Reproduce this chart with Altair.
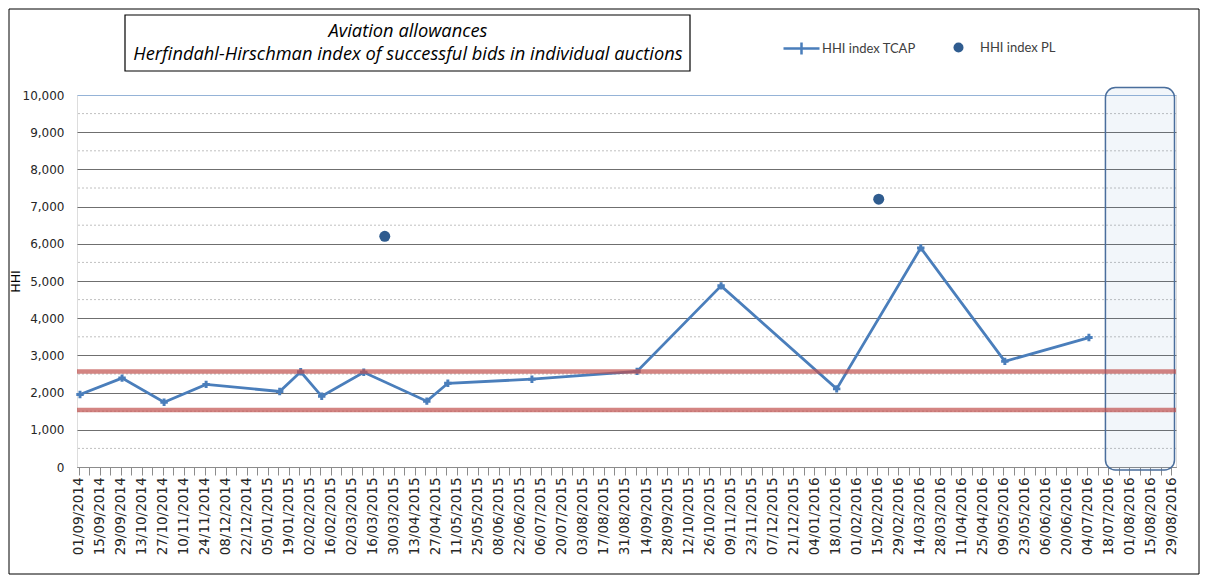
import altair as alt
import pandas as pd

# ---- data ----
tcap_dates = ["2014-09-02", "2014-09-30", "2014-10-28", "2014-11-25", "2015-01-13",
              "2015-01-27", "2015-02-10", "2015-03-10", "2015-04-21", "2015-05-05",
              "2015-06-30", "2015-09-08", "2015-11-03", "2016-01-19", "2016-03-15",
              "2016-05-10", "2016-07-05"]
tcap_values = [1950, 2390, 1740, 2220, 2030, 2560, 1900, 2545, 1770, 2250,
               2360, 2570, 4870, 2100, 5890, 2840, 3480]

pl_dates = ["2015-03-24", "2016-02-16"]
pl_values = [6200, 7200]

thresholds = [1530, 2570]
minor_grid = [500, 1500, 2500, 3500, 4500, 5500, 6500, 7500, 8500, 9500]
y_ticks = [0, 1000, 2000, 3000, 4000, 5000, 6000, 7000, 8000, 9000, 10000]

band_start = ["2016-07-16"]
band_end = ["2016-08-31"]
band_low = [-80]
band_high = [10200]

title_lines = ["Aviation allowances",
               "Herfindahl-Hirschman index of successful bids in individual auctions"]
series_names = ["HHI index TCAP", "HHI index PL"]

x_first_label = "2014-09-01"
x_last_label = "2016-08-29"
x_domain = ["2014-08-31", "2016-09-01"]


def ms(d):
    return int(pd.Timestamp(d, tz="UTC").value // 10**6)


tick_values = [ms(d) for d in pd.date_range(x_first_label, x_last_label, freq="7D")]
t0 = ms(x_first_label)

tcap_df = pd.DataFrame({"date": tcap_dates, "hhi": tcap_values, "series": series_names[0]})
pl_df = pd.DataFrame({"date": pl_dates, "hhi": pl_values, "series": series_names[1]})
thr_df = pd.DataFrame({"hhi": thresholds})
minor_df = pd.DataFrame({"hhi": minor_grid})
band_df = pd.DataFrame({"start": band_start, "end": band_end, "lo": band_low, "hi": band_high})

W, H = 1099, 372
LINE_BLUE = "#4a7ebb"
PL_BLUE = "#2f5c8f"

xscale = alt.Scale(type="utc", domain=[ms(x_domain[0]), ms(x_domain[1])])
yscale = alt.Scale(domain=[0, 10000], nice=False)

label_expr = ("(round((datum.value - %d) / 604800000) %% 2 == 0) ? "
              "utcFormat(datum.value, '%%d/%%m/%%Y') : ''" % t0)

x_axis = alt.Axis(values=tick_values, labelExpr=label_expr, labelAngle=270,
                  labelOverlap=False, labelBound=False, labelFlush=False,
                  labelFont="DejaVu Sans", labelFontSize=13.5, labelColor="#262626",
                  labelPadding=2, tickSize=8, tickColor="#8c8c8c", domainColor="#8c8c8c",
                  grid=False, title=None)

y_axis = alt.Axis(values=y_ticks, format=",.0f", labelFont="DejaVu Sans", labelFontSize=12,
                  labelColor="#262626", labelPadding=13, labelOverlap=False, ticks=False,
                  domain=False, grid=True,
                  gridColor={"condition": {"test": "datum.value == 10000", "value": "#95b3d7"},
                             "value": "#6f6f6f"},
                  title="HHI", titleFont="DejaVu Sans", titleFontSize=12.5, titleFontWeight="normal",
                  titleColor="#000000", titleX=-62, titleY=186, titleAngle=270,
                  titleBaseline="middle", titleAlign="center")


def X(field):
    return alt.X(field, scale=xscale, axis=x_axis)


def Y(field):
    return alt.Y(field, scale=yscale, axis=y_axis)


minor = alt.Chart(minor_df).mark_rule(color="#c0c0c0", strokeDash=[2, 2], strokeWidth=1).encode(
    y=Y("hhi:Q")
)

band = alt.Chart(band_df).mark_rect(
    cornerRadius=10, fill="#4f81bd", fillOpacity=0.075, stroke="#4a6e9c", strokeWidth=1.5
).encode(
    x=X("start:T"),
    x2="end:T",
    y=Y("lo:Q"),
    y2="hi:Q",
)

line = alt.Chart(tcap_df).mark_line(strokeWidth=2.8).encode(
    x=X("date:T"),
    y=Y("hhi:Q"),
    color=alt.Color("series:N",
                    scale=alt.Scale(domain=[series_names[0]], range=[LINE_BLUE]),
                    legend=alt.Legend(title=None, orient="none", legendX=705, legendY=-66,
                                      symbolType="M-1,0H1M0,-0.33V0.33", symbolSize=1296,
                                      symbolStrokeWidth=2.5, labelFont="Lato",
                                      labelFontSize=13, labelColor="#404040", labelOffset=1)),
)

markers = alt.Chart(tcap_df).mark_point(shape="cross", filled=True, size=55, color=LINE_BLUE,
                                        opacity=1).encode(
    x=X("date:T"),
    y=Y("hhi:Q"),
)

pl = alt.Chart(pl_df).mark_point(filled=True, size=121, color=PL_BLUE, opacity=1).encode(
    x=X("date:T"),
    y=Y("hhi:Q"),
    shape=alt.Shape("series:N",
                    scale=alt.Scale(domain=[series_names[1]], range=["circle"]),
                    legend=alt.Legend(title=None, orient="none", legendX=875, legendY=-54,
                                      symbolSize=100, labelFont="Lato", labelFontSize=13,
                                      labelColor="#404040", labelOffset=15)),
)

thr = alt.Chart(thr_df).mark_rule(color="#c0504d", opacity=0.7, strokeWidth=4.5).encode(
    y=Y("hhi:Q")
)

one = pd.DataFrame({"k": [0]})
title_box = alt.Chart(one).mark_rect(fill="white", stroke="#000000", strokeWidth=1.2).encode(
    x=alt.value(48), x2=alt.value(613), y=alt.value(-80), y2=alt.value(-24)
)
title1 = alt.Chart(one).mark_text(font="Open Sans", fontStyle="italic", fontSize=18.3,
                                  align="center", baseline="middle", color="#000000").encode(
    x=alt.value(331), y=alt.value(-63), text=alt.value(title_lines[0])
)
title2 = alt.Chart(one).mark_text(font="Open Sans", fontStyle="italic", fontSize=18.3,
                                  align="center", baseline="middle", color="#000000").encode(
    x=alt.value(331), y=alt.value(-40), text=alt.value(title_lines[1])
)
frame = alt.Chart(one).mark_rect(fillOpacity=0, stroke="#000000", strokeWidth=1).encode(
    x=alt.value(-68), x2=alt.value(W + 23), y=alt.value(-86), y2=alt.value(H + 107)
)

chart = alt.layer(
    minor, band, line, markers, pl, thr, title_box, title1, title2, frame
).properties(
    width=W, height=H,
    autosize=alt.AutoSizeParams(type="none"),
    padding={"left": 69, "top": 87, "right": 24, "bottom": 108},
).configure_view(
    stroke="#95b3d7", strokeWidth=1.2
).configure(background="white")

chart.save("out.html", embed_options={"renderer": "svg", "actions": False})
